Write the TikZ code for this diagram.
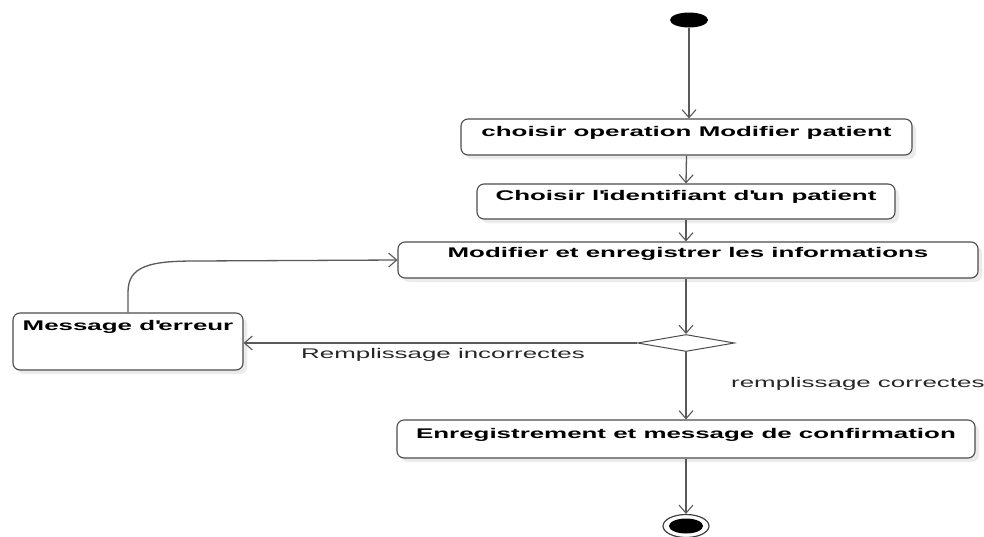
\documentclass[tikz,border=0pt]{standalone}
\usepackage{fontspec}
\setmainfont{Liberation Sans}[FakeStretch=1.85]
\usetikzlibrary{arrows.meta,shapes.geometric,shadows}
\begin{document}
\begin{tikzpicture}[x=1pt,y=-1pt,
  act/.style={draw=black!70, line width=1.1pt, rounded corners=7pt, fill=white, inner sep=0pt,
    font=\fontsize{14}{16}\selectfont\bfseries,
    drop shadow={shadow xshift=4pt, shadow yshift=-4pt, fill=black!8, opacity=1}},
  flow/.style={draw=black!65, line width=1.3pt, -{Straight Barb[length=8pt,width=14pt,line width=1.1pt]}},
  lbl/.style={font=\fontsize{14}{16}\selectfont, inner sep=0pt, text=black!85}]
\useasboundingbox (0,0) rectangle (984,536);
\node[ellipse, fill=black, minimum width=38pt, minimum height=15pt, inner sep=0pt] (s) at (689,20) {};
\node[act, minimum width=451pt, text height=17pt, text depth=19pt] (a1) at (686.5,137) {choisir operation Modifier patient};
\node[act, minimum width=418pt, text height=16pt, text depth=19pt] (a2) at (686,201.5) {Choisir l\textquotesingle identifiant d\textquotesingle un patient};
\node[act, minimum width=580pt, text height=15pt, text depth=21pt] (a3) at (688,260) {Modifier et enregistrer les informations};
\node[act, minimum width=230pt, text height=17pt, text depth=40pt] (a4) at (128,341.5) {Message d\textquotesingle erreur};
\node[act, minimum width=578pt, text height=18pt, text depth=20pt] (a5) at (686,439) {Enregistrement et message de confirmation};
\node[diamond, draw=black!70, line width=1pt, fill=white, minimum width=97pt, minimum height=17pt, inner sep=0pt] (d) at (686,343) {};
\node[ellipse, draw=black!75, line width=1.2pt, fill=white, minimum width=46pt, minimum height=23pt, inner sep=0pt] (e) at (686,526) {};
\node[ellipse, fill=black, minimum width=34pt, minimum height=15pt, inner sep=0pt] (ei) at (e.center) {};
\draw[flow] (s) -- (s |- a1.north);
\draw[flow] (a1.south) -- (a2.north);
\draw[flow] (a2.south) -- (a2.south |- a3.north);
\draw[flow] (d.north |- a3.south) -- (d.north);
\draw[flow] (d.west) -- (d.west -| a4.east);
\draw[flow] (d.south) -- (d.south |- a5.north);
\draw[flow] (a5.south -| e.north) -- (e.north);
\draw[flow] (a4.north) -- (128,292) .. controls (128,266) and (150,261) .. (195,261) -- (a3.west);
\node[lbl] (l1) at (443,355) {Remplissage incorrectes};
\node[lbl, anchor=west] (l2) at (731,384) {remplissage correctes};
\end{tikzpicture}
\end{document}
